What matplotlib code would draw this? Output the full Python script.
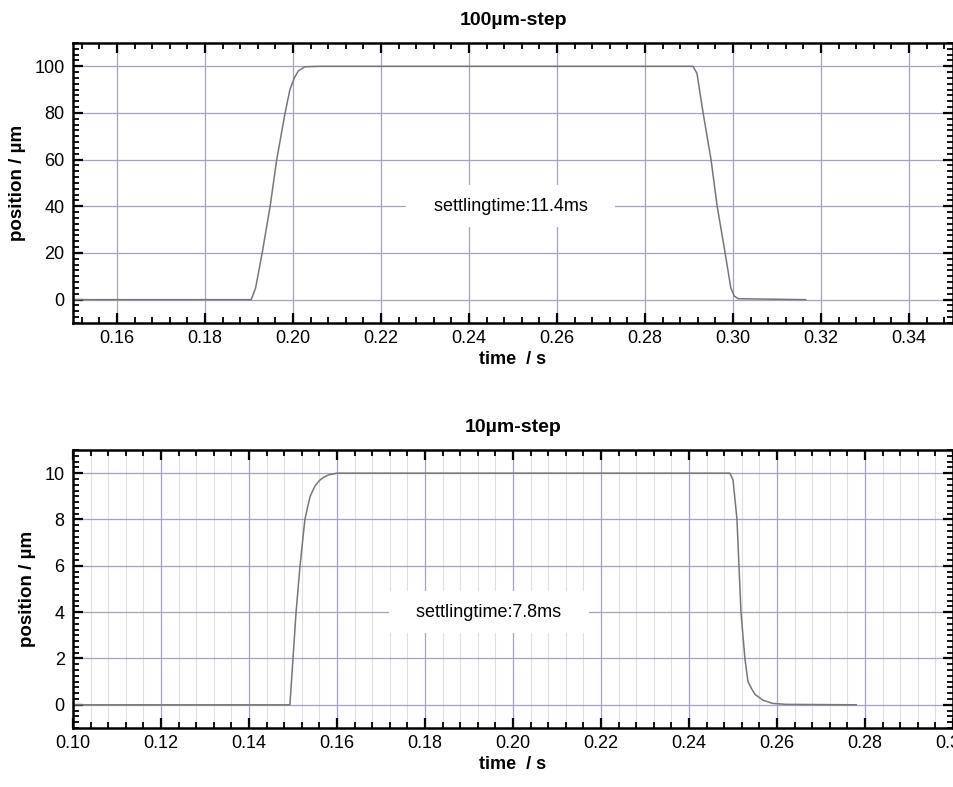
import matplotlib
matplotlib.use('Agg')
import matplotlib.pyplot as plt
from matplotlib.ticker import MultipleLocator, FormatStrFormatter

plt.rcParams['font.family'] = ['Liberation Sans', 'DejaVu Sans']

# 100 um step
t_100 = [0.150, 0.1905, 0.1915, 0.1930, 0.1948, 0.1963, 0.1982, 0.1993, 0.2003,
         0.2012, 0.2027, 0.2060, 0.2909, 0.2918, 0.2932, 0.2950, 0.2964, 0.2982,
         0.2995, 0.3003, 0.3012, 0.3165]
p_100 = [0, 0, 5, 20, 40, 60, 80, 90, 95, 98, 99.8, 100, 100, 97, 80, 60, 40, 20,
         5, 1.5, 0.4, 0]

# 10 um step
t_10 = [0.100, 0.1493, 0.1500, 0.1507, 0.1516, 0.1527, 0.1534, 0.1539, 0.1545,
        0.1550, 0.1561, 0.1570, 0.1580, 0.1600, 0.2493, 0.2500, 0.2509, 0.2518,
        0.2527, 0.2534, 0.2542, 0.2550, 0.2568, 0.2590, 0.2620, 0.2780]
p_10 = [0, 0, 2, 4, 6, 8, 8.6, 9, 9.25, 9.45, 9.7, 9.82, 9.92, 10, 10, 9.7, 8, 4,
        2, 1, 0.7, 0.45, 0.2, 0.06, 0.02, 0]

titles = ['100\u00b5m-step', '10\u00b5m-step']
notes = ['settlingtime:11.4ms', 'settlingtime:7.8ms']

grid_col = '#a4a4bf'
line_col = '#777777'

fig = plt.figure(figsize=(9.54, 7.87), dpi=100)
ax1 = fig.add_axes([0.0765, 0.5896, 0.9225, 0.3558])
ax2 = fig.add_axes([0.0765, 0.0750, 0.9225, 0.3532])


def style(ax, xlim, ylim, xmaj, xmin, ymaj, ymin, minor_grid=False):
    ax.set_xlim(*xlim)
    ax.set_ylim(*ylim)
    ax.xaxis.set_major_locator(MultipleLocator(xmaj))
    ax.xaxis.set_minor_locator(MultipleLocator(xmin))
    ax.yaxis.set_major_locator(MultipleLocator(ymaj))
    ax.yaxis.set_minor_locator(MultipleLocator(ymin))
    ax.xaxis.set_major_formatter(FormatStrFormatter('%.2f'))
    ax.tick_params(which='both', direction='in', top=True, right=True,
                   labelsize=13, colors='black')
    ax.tick_params(which='major', length=7, width=1.6)
    ax.tick_params(which='minor', length=4, width=1.3)
    ax.tick_params(axis='x', which='major', pad=5)
    ax.tick_params(axis='y', which='major', pad=6)
    for s in ax.spines.values():
        s.set_linewidth(1.8)
    ax.grid(which='major', color=grid_col, lw=0.9)
    if minor_grid:
        ax.grid(which='minor', axis='x', color='#dedee8', lw=0.8)
    ax.set_axisbelow(True)
    ax.set_xlabel('time  / s', fontsize=13, fontweight='bold', labelpad=3)
    ax.set_ylabel('position / \u00b5m', fontsize=13.5, fontweight='bold', labelpad=6)


ax1.plot(t_100, p_100, color=line_col, lw=1.1)
style(ax1, (0.15, 0.35), (-10, 110), 0.02, 0.004, 20, 2.5)
ax1.set_title(titles[0], fontsize=14, fontweight='bold', pad=13)
ax1.text(0.2495, 40, '   ' + notes[0] + '   ', ha='center', va='center',
         fontsize=13, zorder=5,
         bbox=dict(facecolor='white', edgecolor='none', pad=9))

ax2.plot(t_10, p_10, color=line_col, lw=1.1)
style(ax2, (0.10, 0.30), (-1, 11), 0.02, 0.004, 2, 0.25, minor_grid=True)
ax2.set_title(titles[1], fontsize=14, fontweight='bold', pad=13)
ax2.text(0.1945, 4, '   ' + notes[1] + '   ', ha='center', va='center',
         fontsize=13, zorder=5,
         bbox=dict(facecolor='white', edgecolor='none', pad=9))

fig.savefig('out.png', dpi=100)
